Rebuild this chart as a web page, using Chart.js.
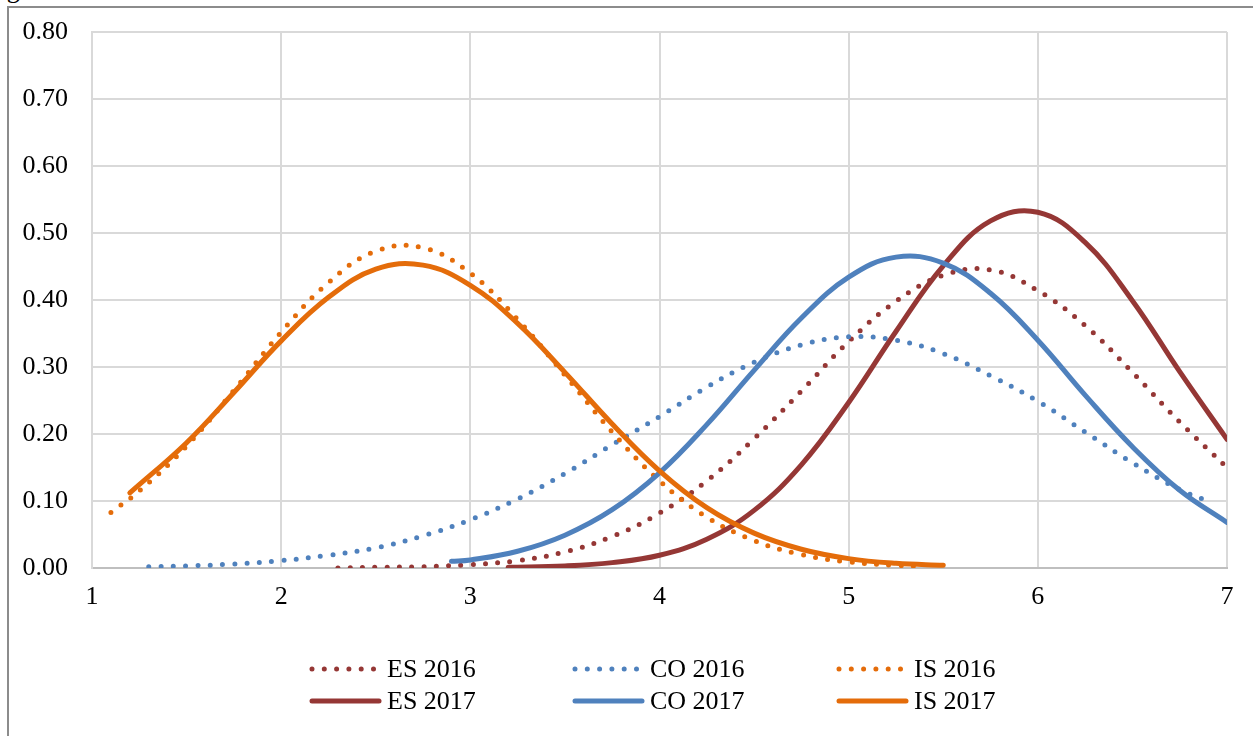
<!DOCTYPE html>
<html>
<head>
<meta charset="utf-8">
<script src="https://cdn.jsdelivr.net/npm/chart.js@4.4.1/dist/chart.umd.min.js"></script>
<style>
    html, body { margin: 0; padding: 0; background: #fff; overflow: hidden; }
    body { width: 1253px; height: 736px; position: relative; }
    #frame { position: absolute; left: 7px; top: 6px; width: 1270px; height: 800px; border: 2px solid #8c8c8c; box-sizing: border-box; }
    #caption { position: absolute; left: -15px; top: -25px; font: 26px "Liberation Serif"; color: #000; white-space: nowrap; }
    #densityChart { position: absolute; left: 0; top: 0; }
</style>
</head>
<body>
<div id="caption">Figure</div>
<div id="frame"></div>
<canvas id="densityChart" width="1253" height="736"></canvas>
<script>
// Tick labels
const xTickLabels = ['1', '2', '3', '4', '5', '6', '7'];
const yTickLabels = ['0.00', '0.10', '0.20', '0.30', '0.40', '0.50', '0.60', '0.70', '0.80'];

// Series names (legend order)
const seriesNames = ['ES 2016', 'CO 2016', 'IS 2016', 'ES 2017', 'CO 2017', 'IS 2017'];

// Values
const es2016X = [2.3, 2.5, 2.75, 3, 3.25, 3.5, 3.75, 4, 4.25, 4.5, 4.75, 5, 5.25, 5.5, 5.75, 6, 6.25, 6.5, 6.75, 7];
const es2016Y = [0.000, 0.001, 0.002, 0.005, 0.011, 0.024, 0.047, 0.082, 0.130, 0.193, 0.264, 0.338, 0.398, 0.437, 0.445, 0.414, 0.362, 0.292, 0.218, 0.150];

const co2016X = [1.3, 1.5, 1.75, 2, 2.25, 2.5, 2.75, 3, 3.25, 3.5, 3.75, 4, 4.25, 4.5, 4.75, 5, 5.25, 5.5, 5.75, 6, 6.25, 6.5, 6.75, 6.9];
const co2016Y = [0.002, 0.003, 0.006, 0.011, 0.019, 0.030, 0.048, 0.072, 0.103, 0.141, 0.184, 0.226, 0.270, 0.307, 0.333, 0.345, 0.340, 0.320, 0.287, 0.249, 0.203, 0.157, 0.117, 0.100];

const is2016X = [1.1, 1.25, 1.5, 1.75, 2, 2.25, 2.5, 2.75, 3, 3.25, 3.5, 3.75, 4, 4.25, 4.5, 4.75, 5, 5.25, 5.4];
const is2016Y = [0.083, 0.115, 0.182, 0.265, 0.352, 0.426, 0.473, 0.478, 0.440, 0.371, 0.288, 0.203, 0.130, 0.076, 0.041, 0.020, 0.009, 0.004, 0.002];

const es2017X = [3.2, 3.5, 3.75, 4, 4.25, 4.5, 4.75, 5, 5.25, 5.5, 5.75, 6, 6.25, 6.5, 6.75, 7];
const es2017Y = [0.001, 0.003, 0.008, 0.019, 0.043, 0.086, 0.154, 0.247, 0.353, 0.451, 0.518, 0.531, 0.486, 0.399, 0.293, 0.192];

const co2017X = [2.9, 3, 3.25, 3.5, 3.75, 4, 4.25, 4.5, 4.75, 5, 5.25, 5.5, 5.75, 6, 6.25, 6.5, 6.75, 7];
const co2017Y = [0.010, 0.012, 0.025, 0.049, 0.087, 0.142, 0.214, 0.295, 0.373, 0.434, 0.464, 0.455, 0.410, 0.340, 0.258, 0.181, 0.116, 0.068];

const is2017X = [1.2, 1.5, 1.75, 2, 2.25, 2.5, 2.75, 3, 3.25, 3.5, 3.75, 4, 4.25, 4.5, 4.75, 5, 5.25, 5.5];
const is2017Y = [0.112, 0.187, 0.262, 0.339, 0.404, 0.446, 0.452, 0.422, 0.365, 0.292, 0.215, 0.145, 0.090, 0.052, 0.028, 0.014, 0.007, 0.004];

const RED = '#953735';
const BLUE = '#4f81bd';
const ORANGE = '#e46c0a';

function points(xs, ys) {
    return xs.map((x, i) => ({ x: x, y: ys[i] }));
}

function dotted(label, color, xs, ys, order) {
    return {
        label: label,
        data: points(xs, ys),
        borderColor: color,
        borderWidth: 5,
        borderDash: [0, 12.3],
        borderCapStyle: 'round',
        tension: 0.4,
        pointRadius: 0,
        fill: false,
        order: order
    };
}

function solid(label, color, xs, ys, order) {
    return {
        label: label,
        data: points(xs, ys),
        borderColor: color,
        borderWidth: 5,
        borderCapStyle: 'round',
        tension: 0.4,
        pointRadius: 0,
        fill: false,
        order: order
    };
}

// Legend laid out as 3 columns x 2 rows, like the original
const rowLegend = {
    id: 'rowLegend',
    afterDraw(chart) {
        const ctx = chart.ctx;
        const colX = [310, 573, 837];
        const rowY = [669, 701];
        ctx.save();
        chart.data.datasets.forEach((ds, i) => {
            const x = colX[i % 3];
            const y = rowY[Math.floor(i / 3)];
            ctx.beginPath();
            ctx.strokeStyle = ds.borderColor;
            ctx.lineWidth = ds.borderWidth;
            ctx.lineCap = 'round';
            ctx.setLineDash(ds.borderDash || []);
            ctx.moveTo(x + 2, y);
            ctx.lineTo(x + 69, y);
            ctx.stroke();
            ctx.setLineDash([]);
            ctx.fillStyle = '#000';
            ctx.font = '26px "Liberation Serif"';
            ctx.textAlign = 'left';
            ctx.textBaseline = 'middle';
            ctx.fillText(ds.label, x + 77, y + 1);
        });
        ctx.restore();
    }
};

const tickFont = { family: 'Liberation Serif', size: 26 };

const ctx = document.getElementById('densityChart').getContext('2d');
new Chart(ctx, {
    type: 'line',
    data: {
        datasets: [
            dotted(seriesNames[0], RED, es2016X, es2016Y, 6),
            dotted(seriesNames[1], BLUE, co2016X, co2016Y, 5),
            dotted(seriesNames[2], ORANGE, is2016X, is2016Y, 4),
            solid(seriesNames[3], RED, es2017X, es2017Y, 3),
            solid(seriesNames[4], BLUE, co2017X, co2017Y, 2),
            solid(seriesNames[5], ORANGE, is2017X, is2017Y, 1)
        ]
    },
    options: {
        responsive: false,
        animation: false,
        layout: {
            padding: { top: 32, right: 26, left: 0, bottom: 118 }
        },
        plugins: {
            legend: { display: false },
            tooltip: { enabled: false }
        },
        scales: {
            x: {
                type: 'linear',
                min: 1,
                max: 7,
                ticks: {
                    stepSize: 1,
                    padding: 14,
                    color: '#000',
                    font: tickFont,
                    callback: (value, index) => xTickLabels[index]
                },
                grid: { color: '#d9d9d9', lineWidth: 2, drawTicks: false },
                border: { color: '#bfbfbf', width: 2 },
                afterFit: scale => {
                    scale.height = 50;
                    scale.paddingLeft = 0;
                    scale.paddingRight = 0;
                }
            },
            y: {
                min: 0,
                max: 0.8,
                ticks: {
                    stepSize: 0.1,
                    padding: 24,
                    color: '#000',
                    font: tickFont,
                    callback: (value, index) => yTickLabels[index]
                },
                grid: { color: '#d9d9d9', lineWidth: 2, drawTicks: false },
                border: { color: '#d9d9d9', width: 2 },
                afterFit: scale => {
                    scale.width = 92;
                    scale.paddingTop = 0;
                    scale.paddingBottom = 0;
                }
            }
        }
    },
    plugins: [rowLegend]
});
</script>
</body>
</html>
